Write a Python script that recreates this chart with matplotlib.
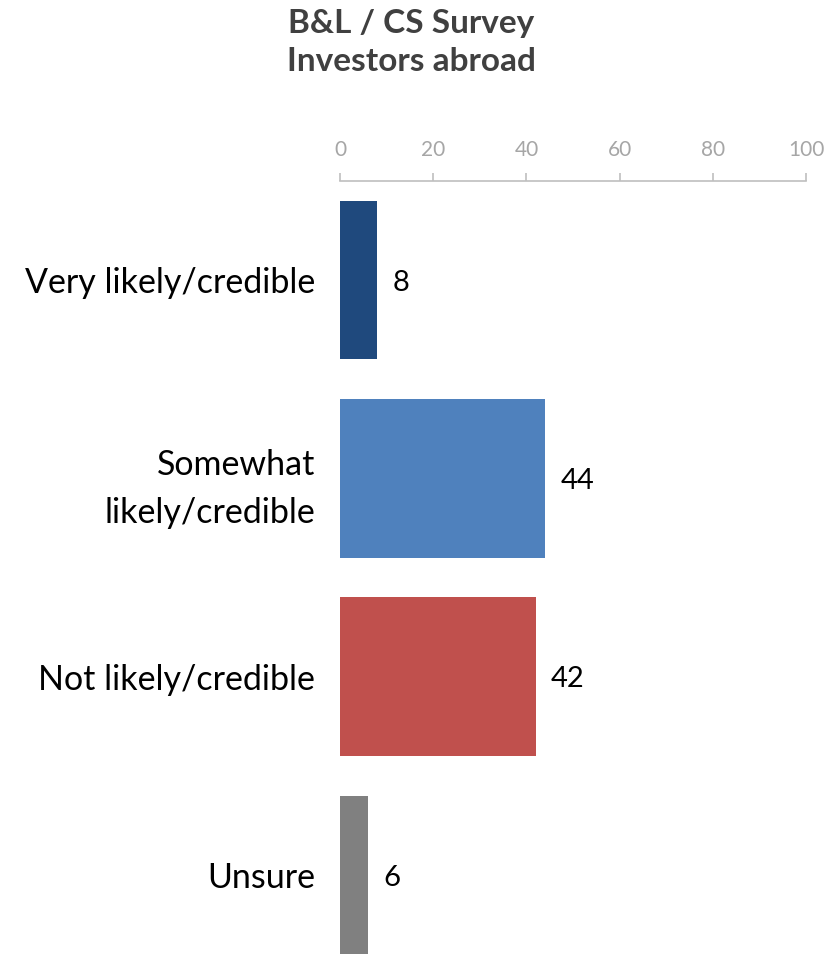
import matplotlib
matplotlib.use("Agg")
import matplotlib.pyplot as plt

categories = ["Very likely/credible", "Somewhat\nlikely/credible",
              "Not likely/credible", "Unsure"]
values = [8, 44, 42, 6]
bar_colors = ["#1F497D", "#4F81BD", "#C0504D", "#808080"]
ticks = [0, 20, 40, 60, 80, 100]

plt.rcParams["font.family"] = ["Lato", "DejaVu Sans"]

fig = plt.figure(figsize=(8.4, 9.61), dpi=100)
ax = fig.add_axes([0.4048, -0.0135, 0.5547, 0.8252])

y = range(len(categories))
ax.barh(y, values, height=0.8, color=bar_colors)
ax.set_ylim(len(categories) - 0.5, -0.5)
ax.set_xlim(0, 100)

# value labels to the right of each bar
for i, v in enumerate(values):
    ax.annotate(str(v), (v, i), xytext=(11, -2), textcoords="offset points",
                va="center", ha="left", fontsize=21, color="#000000")

# percentage scale sits on top
ax.xaxis.tick_top()
ax.set_xticks(ticks)
ax.tick_params(axis="x", colors="#BFBFBF", labelcolor="#A6A6A6",
               labelsize=15, length=6, width=1.2, pad=9)
ax.set_yticks(list(y))
ax.set_yticklabels(categories, fontsize=24.5, color="#000000", linespacing=1.6)
ax.tick_params(axis="y", length=0, pad=18)

for side in ["right", "bottom", "left"]:
    ax.spines[side].set_visible(False)
ax.spines["top"].set_color("#BFBFBF")
ax.spines["top"].set_linewidth(1.2)

fig.text(0.49, 0.991, "B&L / CS Survey\nInvestors abroad", ha="center", va="top",
         fontsize=24, fontweight="bold", color="#404040", linespacing=1.4)

fig.savefig("out.png", dpi=100)
